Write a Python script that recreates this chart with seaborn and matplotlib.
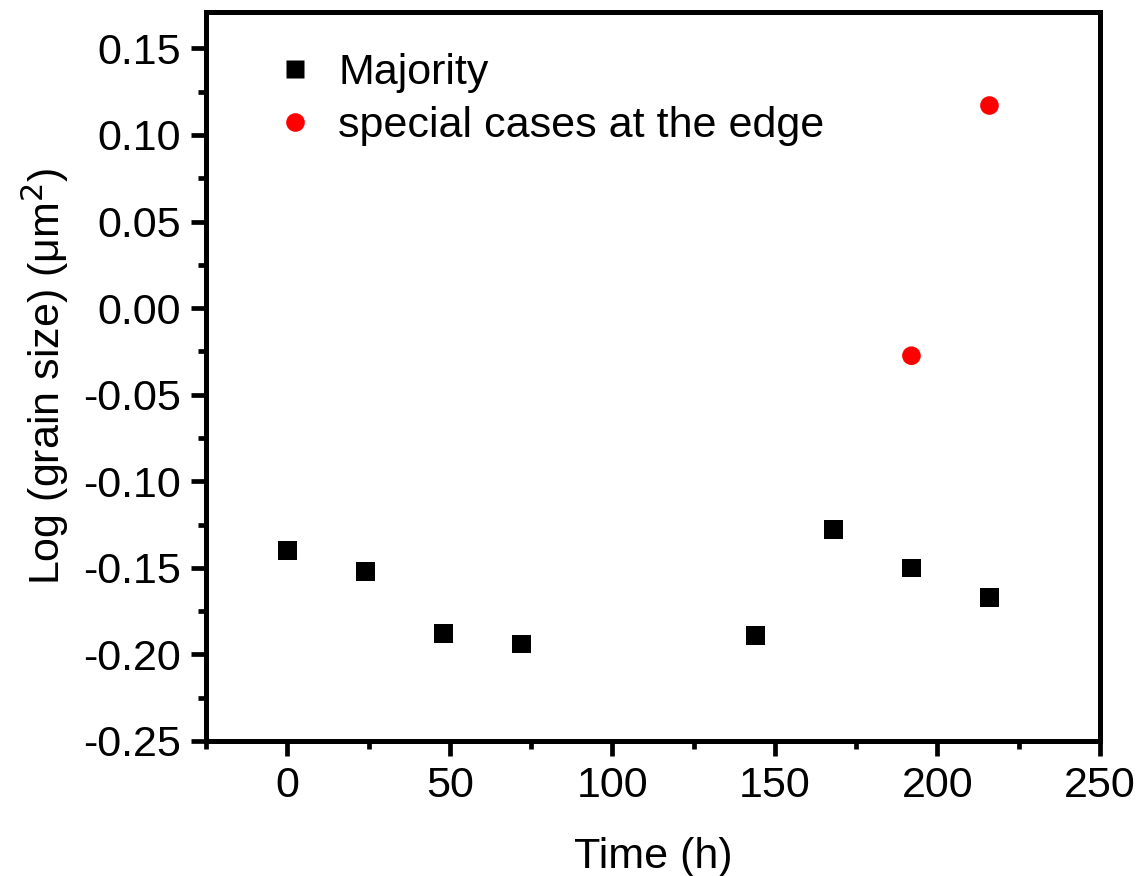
import pandas as pd
import seaborn as sns
import matplotlib.pyplot as plt
from matplotlib.ticker import MultipleLocator

# data
time_major = [0, 24, 48, 72, 144, 168, 192, 216]
log_major = [-0.140, -0.152, -0.188, -0.194, -0.189, -0.128, -0.150, -0.167]
time_edge = [192, 216]
log_edge = [-0.0275, 0.117]

labels = ["Majority", "special cases at the edge"]

df = pd.DataFrame({
    "time": time_major + time_edge,
    "logsize": log_major + log_edge,
    "group": [labels[0]] * len(time_major) + [labels[1]] * len(time_edge),
})

sns.set_style("white")
plt.rcParams["font.family"] = ["Liberation Sans", "DejaVu Sans"]
plt.rcParams["text.color"] = "black"
plt.rcParams["axes.labelcolor"] = "black"
plt.rcParams["xtick.color"] = "black"
plt.rcParams["ytick.color"] = "black"

fig = plt.figure(figsize=(11.37, 8.76), dpi=100)
ax = fig.add_axes([206 / 1137, 1 - 741 / 876, 894 / 1137, 729 / 876])

sns.scatterplot(data=df, x="time", y="logsize", hue="group", style="group",
                palette={labels[0]: "black", labels[1]: "red"},
                markers={labels[0]: "s", labels[1]: "o"},
                s=180, edgecolor="none", ax=ax)

ax.set_xlim(-25, 250)
ax.set_ylim(-0.25, 0.171)
ax.xaxis.set_major_locator(MultipleLocator(50))
ax.xaxis.set_minor_locator(MultipleLocator(25))
ax.yaxis.set_major_locator(MultipleLocator(0.05))
ax.yaxis.set_minor_locator(MultipleLocator(0.025))
ax.yaxis.set_major_formatter(plt.FuncFormatter(lambda v, p: f"{v:.2f}"))

for sp in ax.spines.values():
    sp.set_linewidth(3.6)
    sp.set_color("black")

ax.tick_params(which="major", direction="out", length=11, width=3.4,
               labelsize=31, pad=7, top=False, right=False, bottom=True, left=True)
ax.tick_params(which="minor", direction="out", length=6, width=3.4,
               top=False, right=False, bottom=True, left=True)

ax.set_xlabel("Time (h)", fontsize=31, labelpad=22)
ax.set_ylabel("Log (grain size) (μm$^2$)", fontsize=31, labelpad=9)

leg = ax.legend(loc="upper left", frameon=False, fontsize=31, markerscale=1.0,
                handlelength=1.0, handletextpad=0.5, borderaxespad=0.3,
                bbox_to_anchor=(0.042, 0.985), labelspacing=0.3)

fig.savefig("out.png", dpi=100)
